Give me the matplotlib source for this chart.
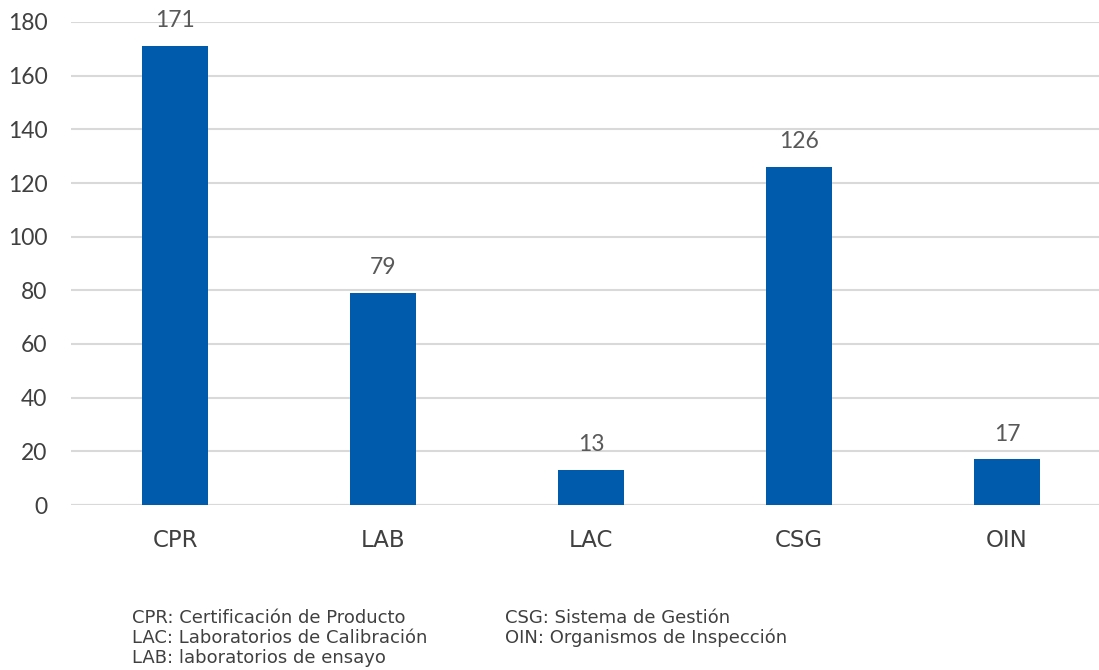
"""
Acreditaciones por esquema - bar chart.
Outputs out.png.
"""

import matplotlib
matplotlib.use("Agg")
import matplotlib.pyplot as plt


CATEGORIES = ["CPR", "LAB", "LAC", "CSG", "OIN"]
VALUES = [171, 79, 13, 126, 17]
Y_TICKS = [0, 20, 40, 60, 80, 100, 120, 140, 160, 180]

LEGEND_LEFT = [
    "CPR: Certificación de Producto",
    "LAC: Laboratorios de Calibración",
    "LAB: laboratorios de ensayo",
]
LEGEND_RIGHT = [
    "CSG: Sistema de Gestión",
    "OIN: Organismos de Inspección",
]

BAR_COLOR = "#005BAC"
GRID_COLOR = "#D9D9D9"
TEXT_COLOR = "#404040"
LABEL_COLOR = "#595959"

plt.rcParams["font.family"] = ["Lato", "DejaVu Sans"]
WORD_FONT = ["DejaVu Sans"]


def build_chart():
    fig = plt.figure(figsize=(10.99, 6.70), dpi=100)
    ax = fig.add_axes([71 / 1099, 165 / 670, 1040 / 1099, 483 / 670])

    x = list(range(len(CATEGORIES)))
    ax.bar(x, VALUES, width=0.313, color=BAR_COLOR, zorder=3)

    for xi, v in zip(x, VALUES):
        ax.text(xi, v + 5.5, str(v), ha="center", va="bottom",
                fontsize=16.5, color=LABEL_COLOR)

    ax.set_xlim(-0.5, len(CATEGORIES) - 0.5)
    ax.set_ylim(0, 180)
    ax.set_yticks(Y_TICKS)
    ax.set_xticks(x)
    ax.set_xticklabels(CATEGORIES, family=WORD_FONT, fontsize=16.5)
    ax.tick_params(axis="both", length=0, colors=TEXT_COLOR)
    ax.tick_params(axis="y", labelsize=16.5, pad=17)
    ax.tick_params(axis="x", pad=17)

    ax.grid(axis="y", color=GRID_COLOR, linewidth=1.5, zorder=0)
    for side in ["top", "right", "left", "bottom"]:
        ax.spines[side].set_visible(False)
    ax.axhline(0, color=GRID_COLOR, linewidth=1.5, zorder=2)

    for i, line in enumerate(LEGEND_LEFT):
        fig.text(132 / 1099, 1 - (618 + 20 * i) / 670, line, family=WORD_FONT,
                 fontsize=13, color=TEXT_COLOR, va="center")
    for i, line in enumerate(LEGEND_RIGHT):
        fig.text(505 / 1099, 1 - (618 + 20 * i) / 670, line, family=WORD_FONT,
                 fontsize=13, color=TEXT_COLOR, va="center")

    fig.savefig("out.png", dpi=100)
    plt.close(fig)


if __name__ == "__main__":
    build_chart()
